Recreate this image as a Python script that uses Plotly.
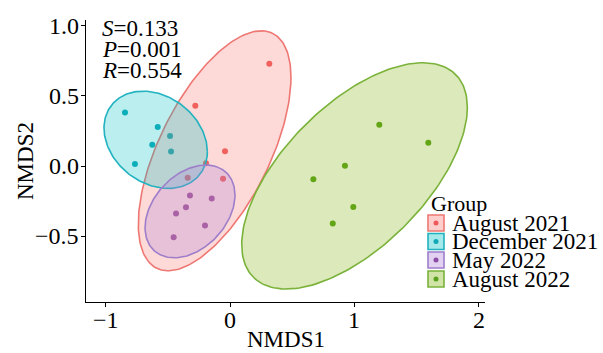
import numpy as np
import plotly.graph_objects as go

# ---------------- data ----------------
groups = ["August 2021", "December 2021", "May 2022", "August 2022"]

aug21_x = [0.316, -0.279, -0.040, -0.193, -0.340, -0.056]
aug21_y = [0.729, 0.430, 0.105, 0.019, -0.084, -0.091]

dec21_x = [-0.844, -0.581, -0.625, -0.482, -0.474, -0.764]
dec21_y = [0.382, 0.277, 0.151, 0.213, 0.103, 0.014]

may22_x = [-0.322, -0.147, -0.354, -0.434, -0.201, -0.453]
may22_y = [-0.210, -0.232, -0.294, -0.339, -0.423, -0.507]

aug22_x = [1.200, 1.594, 0.924, 0.670, 0.991, 0.826]
aug22_y = [0.294, 0.165, 0.002, -0.095, -0.292, -0.409]

# confidence-ellipse estimates per group: centre and shape matrix (sxx, sxy, syy)
ell_cx = [-0.1235, -0.5975, -0.3215, 1.001]
ell_cy = [0.1085, 0.1865, -0.3235, -0.0704]
ell_sxx = [0.3764, 0.1726, 0.1307, 0.8226]
ell_sxy = [0.320, -0.035, 0.042, 0.443]
ell_syy = [0.7302, 0.1201, 0.1092, 0.6496]

stats_text = ["<i>S</i>=0.133", "<i>P</i>=0.001", "<i>R</i>=0.554"]

xticks = [-1, 0, 1, 2]
xtick_labels = ["\u22121", "0", "1", "2"]
yticks = [-0.5, 0.0, 0.5, 1.0]
ytick_labels = ["\u22120.5", "0.0", "0.5", "1.0"]

# ---------------- styles ----------------
line_cols = ["#EE7773", "#22B2C0", "#9E7ECB", "#7AB23A"]
pt_cols = ["#EE5A5A", "#10A8B6", "#8C4DA6", "#58A21E"]
fill_rgb = [(248, 118, 109), (0, 191, 196), (174, 124, 214), (124, 174, 0)]
FONT = "Liberation Serif"

W, H = 603, 353
ML, MR, MT, MB = 86, 118, 20, 51
XR = [-1.1576, 2.0498]
YR = [-0.9687, 1.040]


def px2paper(px, py):
    return (px - ML) / (W - ML - MR), (H - MB - py) / (H - MT - MB)


fig = go.Figure()

xs = [aug21_x, dec21_x, may22_x, aug22_x]
ys = [aug21_y, dec21_y, may22_y, aug22_y]

# points first (ellipses drawn over them, as in the reference)
for i, g in enumerate(groups):
    fig.add_trace(go.Scatter(x=xs[i], y=ys[i], mode="markers",
                             marker=dict(size=6, color=pt_cols[i]),
                             showlegend=False, name=g))

t = np.linspace(0, 2 * np.pi, 200)
for i, g in enumerate(groups):
    a = np.sqrt(ell_sxx[i])
    b = ell_sxy[i] / a
    c = np.sqrt(ell_syy[i] - b * b)
    ex = ell_cx[i] + a * np.cos(t)
    ey = ell_cy[i] + b * np.cos(t) + c * np.sin(t)
    r, gg, bb = fill_rgb[i]
    fig.add_trace(go.Scatter(x=ex, y=ey, mode="lines", fill="toself",
                             fillcolor=f"rgba({r},{gg},{bb},0.27)",
                             line=dict(color=line_cols[i], width=1.6),
                             showlegend=False, hoverinfo="skip"))

annotations = []
shapes = []

# tick labels (as text placed on the axes' scales)
_, ylab_y = px2paper(0, 320)
for v, s in zip(xticks, xtick_labels):
    annotations.append(dict(x=v, y=ylab_y, xref="x", yref="paper", text=s,
                            showarrow=False, xanchor="center", yanchor="middle",
                            font=dict(family=FONT, size=24, color="black")))
xlab_x, _ = px2paper(81, 0)
for v, s in zip(yticks, ytick_labels):
    annotations.append(dict(x=xlab_x, y=v, xref="paper", yref="y", text=s,
                            showarrow=False, xanchor="right", yanchor="middle",
                            font=dict(family=FONT, size=24, color="black")))

# statistics text
for k, s in enumerate(stats_text):
    px, py = px2paper(100, 29 + 20.8 * k)
    annotations.append(dict(x=px, y=py, xref="paper", yref="paper", text=s,
                            showarrow=False, xanchor="left", yanchor="middle",
                            font=dict(family=FONT, size=23, color="black")))

# axis titles
tx, ty = px2paper(285.5, 339.5)
annotations.append(dict(x=tx, y=ty, xref="paper", yref="paper", text="NMDS1",
                        showarrow=False, xanchor="center", yanchor="middle",
                        font=dict(family=FONT, size=23, color="black")))
tx, ty = px2paper(25, 161)
annotations.append(dict(x=tx, y=ty, xref="paper", yref="paper", text="NMDS2",
                        showarrow=False, xanchor="center", yanchor="middle",
                        textangle=-90,
                        font=dict(family=FONT, size=23, color="black")))

# manual legend
gx, gy = px2paper(429, 203)
annotations.append(dict(x=gx, y=gy, xref="paper", yref="paper", text="Group",
                        showarrow=False, xanchor="left", yanchor="middle",
                        font=dict(family=FONT, size=22, color="black")))
row_y = [223, 241.5, 260, 279]
for i, g in enumerate(groups):
    x0, y0 = px2paper(428, row_y[i] - 8)
    x1, y1 = px2paper(444, row_y[i] + 8)
    r, gg, bb = fill_rgb[i]
    shapes.append(dict(type="rect", xref="paper", yref="paper",
                       x0=x0, x1=x1, y0=y1, y1=y0,
                       fillcolor=f"rgba({r},{gg},{bb},0.35)",
                       line=dict(color=line_cols[i], width=1.6)))
    cx0, cy0 = px2paper(433.5, row_y[i] - 2.5)
    cx1, cy1 = px2paper(438.5, row_y[i] + 2.5)
    shapes.append(dict(type="circle", xref="paper", yref="paper",
                       x0=cx0, x1=cx1, y0=cy1, y1=cy0,
                       fillcolor=pt_cols[i], line=dict(width=0)))
    tx, ty = px2paper(450, row_y[i])
    annotations.append(dict(x=tx, y=ty, xref="paper", yref="paper", text=g,
                            showarrow=False, xanchor="left", yanchor="middle",
                            font=dict(family=FONT, size=23, color="black")))

axis_common = dict(showline=True, linecolor="black", linewidth=1.3,
                   ticks="outside", ticklen=4, tickwidth=1.2, tickcolor="black",
                   showgrid=False, zeroline=False, showticklabels=False)

fig.update_layout(
    width=W, height=H, autosize=False,
    margin=dict(l=ML, r=MR, t=MT, b=MB, pad=0),
    paper_bgcolor="white", plot_bgcolor="white",
    showlegend=False,
    xaxis=dict(range=XR, tickvals=xticks, **axis_common),
    yaxis=dict(range=YR, tickvals=yticks, **axis_common),
    annotations=annotations, shapes=shapes,
)

fig.write_html("out.html")
